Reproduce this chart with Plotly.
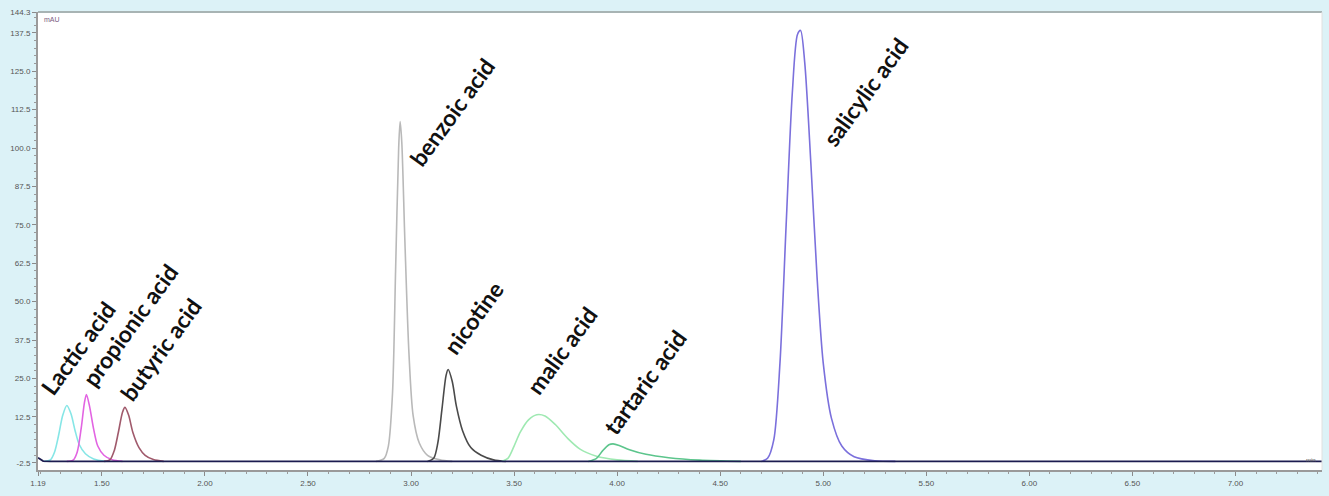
import plotly.graph_objects as go

# ---- data (time in min, signal in mAU) ----
baseline_t = [1.19, 1.20, 1.215, 1.25, 7.42]
baseline_v = [-0.8, -1.2, -1.9, -2.0, -2.0]

lactic_t = [1.22, 1.25, 1.27, 1.29, 1.31, 1.33, 1.35, 1.37, 1.39, 1.42, 1.46, 1.52]
lactic_v = [-2.0, -1.5, 1.0, 6.5, 13.0, 16.2, 13.5, 8.0, 3.5, 0.5, -1.2, -2.0]

propionic_t = [1.33, 1.36, 1.38, 1.40, 1.415, 1.425, 1.44, 1.46, 1.48, 1.51, 1.55, 1.60]
propionic_v = [-2.0, -1.6, 1.0, 9.0, 17.0, 19.8, 16.0, 8.5, 3.0, 0.0, -1.5, -2.0]

butyric_t = [1.51, 1.54, 1.56, 1.58, 1.60, 1.612, 1.63, 1.65, 1.68, 1.71, 1.75, 1.80]
butyric_v = [-2.0, -1.4, 1.5, 7.5, 14.0, 15.6, 13.0, 7.5, 2.5, 0.0, -1.4, -2.0]

benzoic_t = [2.83, 2.87, 2.89, 2.91, 2.925, 2.94, 2.947, 2.955, 2.97, 2.99, 3.01, 3.04, 3.08, 3.14, 3.20]
benzoic_v = [-2.0, -1.0, 3.0, 20.0, 60.0, 100.0, 108.6, 102.0, 70.0, 33.0, 13.0, 4.0, 0.0, -1.5, -2.0]

nicotine_t = [3.08, 3.11, 3.13, 3.15, 3.17, 3.18, 3.20, 3.22, 3.25, 3.29, 3.34, 3.40, 3.46]
nicotine_v = [-2.0, -1.0, 4.0, 15.0, 26.0, 27.9, 24.0, 16.0, 8.0, 2.5, 0.0, -1.5, -2.0]

malic_t = [3.44, 3.47, 3.50, 3.53, 3.57, 3.61, 3.65, 3.70, 3.76, 3.82, 3.90, 4.00, 4.10]
malic_v = [-2.0, -1.0, 3.0, 7.5, 11.5, 13.2, 12.8, 10.0, 5.5, 2.0, -0.3, -1.5, -2.0]

tartaric_t = [3.86, 3.90, 3.93, 3.96, 3.98, 4.01, 4.06, 4.14, 4.25, 4.40, 4.60]
tartaric_v = [-2.0, -1.0, 1.5, 3.4, 3.7, 3.2, 1.8, 0.3, -0.8, -1.6, -2.0]

salicylic_t = [4.70, 4.73, 4.76, 4.79, 4.82, 4.85, 4.875, 4.89, 4.91, 4.94, 4.97, 5.00, 5.04, 5.09, 5.15, 5.25, 5.35]
salicylic_v = [-2.0, -1.0, 5.0, 30.0, 75.0, 118.0, 137.0, 138.3, 128.0, 95.0, 58.0, 30.0, 12.0, 3.0, -0.5, -1.8, -2.0]

peak_names = ["Lactic acid", "propionic acid", "butyric acid", "benzoic acid",
              "nicotine", "malic acid", "tartaric acid", "salicylic acid"]
label_t = [1.384, 1.636, 1.782, 3.199, 3.301, 3.732, 4.135, 5.203]
label_v = [34.9, 42.4, 34.3, 111.7, 44.7, 34.3, 23.8, 118.3]

x_ticks = [1.19, 1.5, 2.0, 2.5, 3.0, 3.5, 4.0, 4.5, 5.0, 5.5, 6.0, 6.5, 7.0]
x_tick_text = ["1.19", "1.50", "2.00", "2.50", "3.00", "3.50", "4.00", "4.50",
               "5.00", "5.50", "6.00", "6.50", "7.00"]
y_ticks = [-2.5, 12.5, 25.0, 37.5, 50.0, 62.5, 75.0, 87.5, 100.0, 112.5, 125.0, 137.5, 144.3]
y_tick_text = ["-2.5", "12.5", "25.0", "37.5", "50.0", "62.5", "75.0", "87.5",
               "100.0", "112.5", "125.0", "137.5", "144.3"]

series = [
    (benzoic_t, benzoic_v, "#b9b9b9"),
    (nicotine_t, nicotine_v, "#4a4a4a"),
    (malic_t, malic_v, "#9fe9b2"),
    (tartaric_t, tartaric_v, "#5cc58c"),
    (salicylic_t, salicylic_v, "#7b70dc"),
    (lactic_t, lactic_v, "#86e6e6"),
    (propionic_t, propionic_v, "#e264e2"),
    (butyric_t, butyric_v, "#a05a6c"),
]

fig = go.Figure()
for t, v, c in series:
    fig.add_trace(go.Scatter(x=t, y=v, mode="lines",
                             line=dict(color=c, width=1.6, shape="spline", smoothing=0.8),
                             hoverinfo="x+y", showlegend=False))
fig.add_trace(go.Scatter(x=baseline_t, y=baseline_v, mode="lines",
                         line=dict(color="#1c1c50", width=1.8), showlegend=False))

for name, t, v in zip(peak_names, label_t, label_v):
    fig.add_annotation(x=t, y=v, text="<b>%s</b>" % name, showarrow=False, textangle=-54,
                       xanchor="center", yanchor="middle",
                       font=dict(family="Lato, Open Sans, sans-serif", size=23, color="#111111"))

fig.add_annotation(x=0.003, y=0.995, xref="paper", yref="paper", text="mAU", showarrow=False,
                   xanchor="left", yanchor="top",
                   font=dict(family="Arial, Liberation Sans", size=7, color="#7a5a80"))
fig.add_annotation(x=0.997, y=0.012, xref="paper", yref="paper", text="min", showarrow=False,
                   xanchor="right", yanchor="bottom",
                   font=dict(family="Arial, Liberation Sans", size=6, color="#555555"))

fig.update_layout(
    width=1329, height=496,
    margin=dict(l=38, r=7, t=12, b=26),
    paper_bgcolor="#dcf2f7", plot_bgcolor="#ffffff",
    xaxis=dict(range=[1.19, 7.42], tickmode="array", tickvals=x_ticks, ticktext=x_tick_text,
               showgrid=False, zeroline=False, showline=True, linecolor="#9a9a9a", linewidth=2,
               ticks="outside", ticklen=4, tickcolor="#8a8a8a", automargin=False,
               tickfont=dict(family="Arial, Liberation Sans", size=8, color="#555555"),
               minor=dict(tickmode="linear", tick0=1.2, dtick=0.1, ticks="outside", ticklen=2,
                          tickcolor="#9a9a9a")),
    yaxis=dict(range=[-4.8, 144.3], tickmode="array", tickvals=y_ticks, ticktext=y_tick_text,
               showgrid=False, zeroline=False, showline=True, linecolor="#9a9a9a", linewidth=2,
               ticks="outside", ticklen=4, tickcolor="#8a8a8a", automargin=False,
               tickfont=dict(family="Arial, Liberation Sans", size=8, color="#555555"),
               minor=dict(tickmode="linear", tick0=0, dtick=2.5, ticks="outside", ticklen=2,
                          tickcolor="#9a9a9a")),
)
fig.add_shape(type="line", xref="paper", yref="paper", x0=0, x1=1, y0=1, y1=1,
              line=dict(color="#a8b4b4", width=2))
fig.add_shape(type="line", xref="paper", yref="paper", x0=1, x1=1, y0=0, y1=1,
              line=dict(color="#e0e0e0", width=1))

fig.write_html("out.html", config={"displayModeBar": False},
               post_script="document.body.style.margin='0';document.body.style.background='#dcf2f7';")
